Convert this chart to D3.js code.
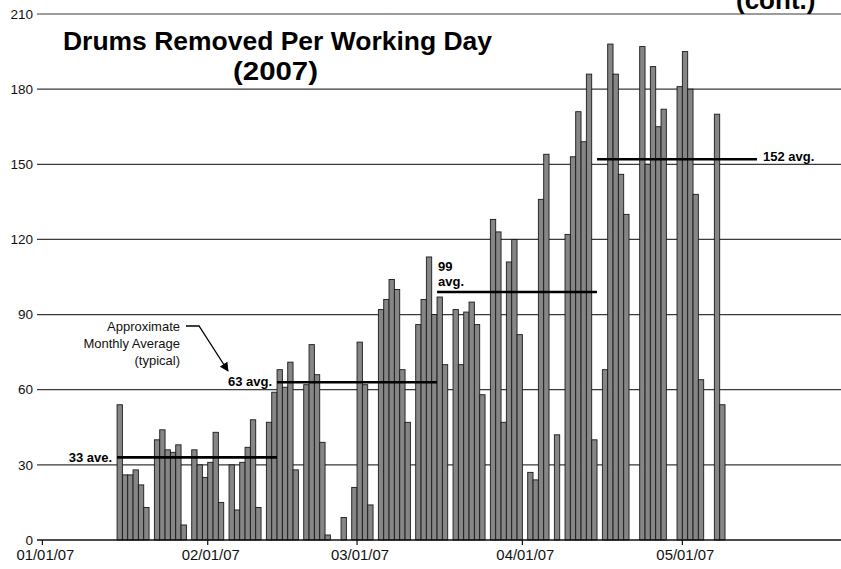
<!DOCTYPE html>
<html><head><meta charset="utf-8">
<script src="https://cdn.jsdelivr.net/npm/d3@7/dist/d3.min.js"></script>
<style>body{margin:0;background:#fff;} svg{display:block;font-family:"Liberation Sans",Arial,sans-serif;}</style>
</head><body>
<svg id="chart" width="841" height="569"></svg>
<script>
// ---- data ----
const workDays = [
  "2007-01-15","2007-01-16","2007-01-17","2007-01-18","2007-01-19","2007-01-20",
  "2007-01-22","2007-01-23","2007-01-24","2007-01-25","2007-01-26","2007-01-27",
  "2007-01-29","2007-01-30","2007-01-31","2007-02-01","2007-02-02","2007-02-03",
  "2007-02-05","2007-02-06","2007-02-07","2007-02-08","2007-02-09","2007-02-10",
  "2007-02-12","2007-02-13","2007-02-14","2007-02-15","2007-02-16","2007-02-17",
  "2007-02-19","2007-02-20","2007-02-21","2007-02-22","2007-02-23",
  "2007-02-26","2007-02-28","2007-03-01","2007-03-02","2007-03-03",
  "2007-03-05","2007-03-06","2007-03-07","2007-03-08","2007-03-09","2007-03-10",
  "2007-03-12","2007-03-13","2007-03-14","2007-03-15","2007-03-16","2007-03-17",
  "2007-03-19","2007-03-20","2007-03-21","2007-03-22","2007-03-23","2007-03-24",
  "2007-03-26","2007-03-27","2007-03-28","2007-03-29","2007-03-30","2007-03-31",
  "2007-04-02","2007-04-03","2007-04-04","2007-04-05","2007-04-07",
  "2007-04-09","2007-04-10","2007-04-11","2007-04-12","2007-04-13","2007-04-14",
  "2007-04-16","2007-04-17","2007-04-18","2007-04-19","2007-04-20",
  "2007-04-23","2007-04-24","2007-04-25","2007-04-26","2007-04-27",
  "2007-04-30","2007-05-01","2007-05-02","2007-05-03","2007-05-04",
  "2007-05-07","2007-05-08"
];
const drumsRemoved = [
  54,26,26,28,22,13,
  40,44,36,35,38,6,
  36,30,25,31,43,15,
  30,12,31,37,48,13,
  47,59,68,61,71,28,
  62,78,66,39,2,
  9,21,79,62,14,
  92,96,104,100,68,47,
  86,96,113,90,97,70,
  92,70,91,95,86,58,
  128,123,47,111,120,82,
  27,24,136,154,42,
  122,153,171,159,186,40,
  68,198,186,146,130,
  197,150,189,165,172,
  181,195,180,138,64,
  170,54
];
const avgStarts = ["2007-01-15","2007-02-14","2007-03-16","2007-04-15"];
const avgEnds   = ["2007-02-14","2007-03-16","2007-04-15","2007-05-15"];
const avgValues = [33,63,99,152];
const avgLabels = ["33 ave.","63 avg.","99 avg.","152 avg."];
const yTicks = [0,30,60,90,120,150,180,210];
const xTickDates = ["2007-01-01","2007-02-01","2007-03-01","2007-04-01","2007-05-01"];

// ---- drawing ----
const svg = d3.select("#chart");
const W = 841, H = 569;
const parse = d3.utcParse("%Y-%m-%d");
const dayW = 5.333;
const x = d3.scaleUtc()
  .domain([parse("2007-01-01"), parse("2007-06-01")])
  .range([42.4, 42.4 + 151*dayW]);
const y = d3.scaleLinear().domain([0,210]).range([540,14]);

// gridlines
svg.append("g").selectAll("line").data(yTicks.filter(d=>d>0)).join("line")
  .attr("x1",37).attr("x2",W).attr("y1",d=>y(d)).attr("y2",d=>y(d))
  .attr("stroke","#3a3a3a").attr("stroke-width",1.2);
// y labels
svg.append("g").selectAll("text").data(yTicks).join("text")
  .attr("x",33).attr("y",d=>y(d)).attr("dy","0.35em")
  .attr("text-anchor","end").attr("font-size",13.5).attr("fill","#111")
  .text(d=>d);

// bars
const bars = workDays.map((d,i)=>({date:parse(d), v:drumsRemoved[i]}));
svg.append("g").selectAll("rect").data(bars).join("rect")
  .attr("x",d=>x(d.date))
  .attr("width",d=>x(d3.utcDay.offset(d.date,1))-x(d.date))
  .attr("y",d=>y(d.v))
  .attr("height",d=>y(0)-y(d.v))
  .attr("fill","#868686").attr("stroke","#1a1a1a").attr("stroke-width",0.9);

// x axis
svg.append("line").attr("x1",37).attr("x2",W).attr("y1",y(0)).attr("y2",y(0))
  .attr("stroke","#111").attr("stroke-width",1.4);
const fmt = d3.utcFormat("%m/%d/%y");
const xt = svg.append("g");
xt.selectAll("line").data(xTickDates).join("line")
  .attr("x1",d=>x(parse(d))).attr("x2",d=>x(parse(d)))
  .attr("y1",y(0)).attr("y2",y(0)+5).attr("stroke","#111").attr("stroke-width",1.2);
xt.selectAll("text").data(xTickDates).join("text")
  .attr("x",d=>x(parse(d))+3).attr("y",560)
  .attr("text-anchor","middle").attr("font-size",14).attr("fill","#111")
  .attr("textLength",58).attr("lengthAdjust","spacingAndGlyphs")
  .text(d=>fmt(parse(d)));

// average lines
const avg = avgValues.map((v,i)=>({v, s:parse(avgStarts[i]), e:parse(avgEnds[i]), label:avgLabels[i]}));
svg.append("g").selectAll("line").data(avg).join("line")
  .attr("x1",d=>x(d.s)).attr("x2",d=>x(d.e))
  .attr("y1",d=>y(d.v)).attr("y2",d=>y(d.v))
  .attr("stroke","#000").attr("stroke-width",2.6);
const lab = svg.append("g").attr("font-size",13).attr("font-weight","bold").attr("fill","#000");
lab.append("text").attr("x",x(avg[0].s)-5).attr("y",y(avg[0].v)+5).attr("text-anchor","end").text(avg[0].label);
lab.append("text").attr("x",x(avg[1].s)-5).attr("y",y(avg[1].v)+4).attr("text-anchor","end").text(avg[1].label);
const l99 = avg[2].label.split(" ");
lab.append("text").attr("x",x(avg[2].s)+1).attr("y",y(avg[2].v)-21).text(l99[0]);
lab.append("text").attr("x",x(avg[2].s)+1).attr("y",y(avg[2].v)-6).text(l99[1]);
lab.append("text").attr("x",x(avg[3].e)+6).attr("y",y(avg[3].v)+2).text(avg[3].label);

// annotation
const ann = svg.append("g").attr("font-size",13).attr("fill","#111");
["Approximate","Monthly Average","(typical)"].forEach((t,i)=>{
  ann.append("text").attr("x",180).attr("y",331+i*17).attr("text-anchor","end").text(t);
});
svg.append("defs").append("marker").attr("id","ah").attr("viewBox","0 0 10 10")
  .attr("refX",9).attr("refY",5).attr("markerWidth",7).attr("markerHeight",7).attr("orient","auto")
  .append("path").attr("d","M0,0 L10,5 L0,10 z").attr("fill","#000");
svg.append("path").attr("d","M186,326 L199,326 L228,371")
  .attr("fill","none").attr("stroke","#000").attr("stroke-width",1.3).attr("marker-end","url(#ah)");

// titles
svg.append("text").attr("x",63).attr("y",50).attr("font-size",25).attr("font-weight","bold")
  .attr("textLength",429).attr("lengthAdjust","spacingAndGlyphs")
  .attr("fill","#000").text("Drums Removed Per Working Day");
svg.append("text").attr("x",233).attr("y",80).attr("font-size",26).attr("font-weight","bold")
  .attr("textLength",85).attr("lengthAdjust","spacingAndGlyphs")
  .attr("fill","#000").text("(2007)");
// clipped slide header remnant
svg.append("text").attr("x",736).attr("y",9).attr("font-size",26).attr("font-weight","bold")
  .attr("fill","#000").text("(cont.)");
</script>
</body></html>
